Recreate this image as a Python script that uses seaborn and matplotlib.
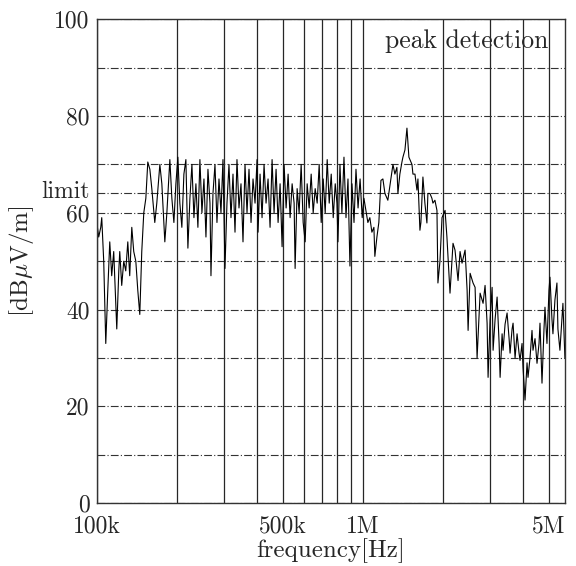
import numpy as np
import pandas as pd
import matplotlib
matplotlib.use("Agg")
import matplotlib.pyplot as plt
import seaborn as sns
from matplotlib.ticker import FixedLocator, NullFormatter
from matplotlib.transforms import ScaledTranslation


freq_khz = [
    100, 101.7, 103.5, 104.4, 106.2, 108.1, 110.0, 111.9, 113.8, 115.8,
    118.9, 121.0, 122.0, 124.1, 126.3, 128.5, 130.8, 133.0, 135.4, 137.7,
    140.2, 142.6, 145.1, 147.6, 150.2, 152.9, 155.5, 158.3, 161.0, 165.2,
    168.1, 172.6, 175.6, 180.2, 183.4, 188.2, 191.5, 194.9, 198.3, 201.7,
    205.2, 208.8, 212.5, 216.2, 220.0, 223.9, 227.8, 231.8, 235.8, 239.9,
    244.1, 248.4, 252.8, 257.2, 261.7, 266.3, 268.6, 273.3, 278.1, 282.9,
    287.9, 292.9, 298.0, 303.2, 308.5, 313.9, 319.4, 325.0, 330.7, 336.4,
    342.3, 348.3, 354.4, 360.6, 366.9, 373.3, 379.9, 386.5, 393.3, 400.2,
    403.7, 410.7, 417.9, 425.2, 432.6, 440.2, 447.9, 455.8, 463.7, 471.8,
    480.1, 488.5, 497.0, 505.7, 514.6, 523.6, 532.7, 542.1, 551.5, 556.3,
    566.1, 576.0, 586.1, 596.4, 606.8, 617.4, 628.2, 639.2, 650.4, 661.8,
    673.3, 685.1, 697.1, 709.3, 721.7, 734.3, 747.2, 760.3, 773.6, 787.1,
    799, 806, 820, 834, 849, 864, 879, 894, 910, 926,
    942, 959, 976, 994, 1009, 1026, 1044, 1062, 1081, 1100,
    1109, 1129, 1148, 1169, 1189, 1210, 1241, 1274, 1297, 1319,
    1342, 1354, 1377, 1402, 1414, 1439, 1464, 1489, 1529, 1542,
    1569, 1596, 1610, 1638, 1652, 1681, 1710, 1740, 1755, 1786,
    1817, 1833, 1865, 1898, 1914, 1948, 1983, 2036, 2069, 2125,
    2181, 2219, 2278, 2318, 2358, 2421, 2464, 2485, 2529, 2594,
    2640, 2686, 2757, 2829, 2878, 2929, 2954, 3006, 3059, 3085,
    3139, 3194, 3250, 3278, 3335, 3363, 3422, 3482, 3543, 3573,
    3636, 3667, 3731, 3796, 3862, 3895, 3963, 3997, 4067, 4138,
    4173, 4246, 4320, 4357, 4434, 4511, 4590, 4629, 4710, 4792,
    4833, 4917, 5003, 5046, 5134, 5178, 5268, 5360, 5406, 5500,
    5597, 5645, 5743,
]
level_db = [
    58, 55, 57, 59, 50, 33, 44, 54, 47, 52,
    36, 48, 52, 45, 50, 48, 54, 47, 57, 52,
    50, 44, 39, 52, 60, 63, 70.5, 69, 65, 58,
    62, 70, 66, 54, 60, 71, 63, 58, 66, 71.5,
    62, 57, 68, 71, 52.7, 63, 70, 59, 66, 57,
    71, 60, 67, 55, 69, 62, 47, 64, 70, 58,
    67, 60, 71, 48.5, 62, 70, 59, 68, 56, 71,
    61, 66, 54, 70, 60, 69, 58, 67, 62, 71,
    56, 68, 59, 70, 62, 67, 57, 71, 60, 69,
    58, 66, 53, 70, 61, 68, 59, 66, 62, 48.5,
    65, 60, 70, 58, 54, 66, 61, 68, 60, 65,
    62, 70, 58, 67, 60, 71, 62, 68, 59, 66,
    62, 54, 70, 60, 71.5, 59, 67, 49, 66, 58,
    69, 61, 67, 59, 63, 60.5, 58, 59, 56, 57,
    51, 55, 58, 66.7, 67, 64, 62.6, 67, 70, 68,
    69.4, 64, 68, 70.5, 71.5, 73, 77.5, 71.5, 70, 68,
    68, 64.7, 67, 56.4, 58, 67.4, 62, 57.9, 64, 64,
    63, 62, 62.6, 60.5, 45.5, 50, 59, 60.5, 55, 43.4,
    53.7, 52.3, 46, 52, 49.6, 52.3, 44, 35.7, 47.5, 45.5,
    44.6, 30, 43.4, 41.3, 45, 37.2, 26, 38, 44.6, 31.6,
    38, 42.6, 33, 26, 35, 31.6, 37, 39.3, 34, 31,
    36, 37.2, 30, 35, 31, 29.5, 33, 28, 21.3, 29,
    26, 30, 35.7, 31.6, 34, 28.9, 33, 37.2, 24.8, 36,
    40.5, 33, 44, 46.7, 38, 35, 42, 45.5, 36, 31.6,
    38, 41.3, 30,
]

x_major = [1e5, 5e5, 1e6, 5e6]
x_major_labels = ["100k", "500k", "1M", "5M"]
x_minor = [2e5, 3e5, 4e5, 6e5, 7e5, 8e5, 9e5, 2e6, 3e6, 4e6]
limit_db = 64
y_major = [0, 20, 40, 60, limit_db, 80, 100]
y_major_labels = ["0", "20", "40", "60", "limit", "80", "100"]
y_minor = [10, 30, 50, 70, 90]

df = pd.DataFrame({"freq": np.array(freq_khz) * 1e3, "level": level_db})

sns.set_style("white")
plt.rcParams["font.family"] = ["cmr10", "DejaVu Serif"]
plt.rcParams["mathtext.fontset"] = "cm"
plt.rcParams["axes.formatter.use_mathtext"] = True

fig = plt.figure(figsize=(5.76, 5.66), dpi=100)
ax = fig.add_axes([0.168, 0.111, 0.813, 0.855])

sns.lineplot(data=df, x="freq", y="level", ax=ax, color="black",
             linewidth=0.8, estimator=None)

ax.set_xscale("log")
ax.set_xlim(1e5, 5.75e6)
ax.set_ylim(0, 100)

ax.xaxis.set_major_locator(FixedLocator(x_major))
ax.set_xticklabels(x_major_labels)
ax.xaxis.set_minor_locator(FixedLocator(x_minor))
ax.xaxis.set_minor_formatter(NullFormatter())
ax.yaxis.set_major_locator(FixedLocator(y_major))
ax.set_yticklabels(y_major_labels)
ax.yaxis.set_minor_locator(FixedLocator(y_minor))

ax.tick_params(which="both", length=0, labelsize=17)
ax.tick_params(axis="x", pad=9)
ax.tick_params(axis="y", pad=5)

# nudge the "limit" label up a little so it sits above 60
lim_lbl = ax.get_yticklabels()[y_major.index(limit_db)]
lim_lbl.set_transform(lim_lbl.get_transform()
                      + ScaledTranslation(0, 3 / 72, fig.dpi_scale_trans))

ax.grid(axis="x", which="both", color="0.15", linewidth=0.9, linestyle="-")
ax.grid(axis="y", which="both", color="0.2", linewidth=0.8,
        linestyle=(0, (7, 2, 1, 2)))
ax.set_axisbelow(True)

for s in ax.spines.values():
    s.set_color("0.2")
    s.set_linewidth(1.0)

ax.set_xlabel("frequency[Hz]", fontsize=18, labelpad=0)
ax.set_ylabel(r"[dB$\mu$V/m]", fontsize=18, labelpad=4)
ax.text(0.965, 0.98, "peak detection", transform=ax.transAxes,
        ha="right", va="top", fontsize=18.5)

fig.savefig("out.png", dpi=100)
